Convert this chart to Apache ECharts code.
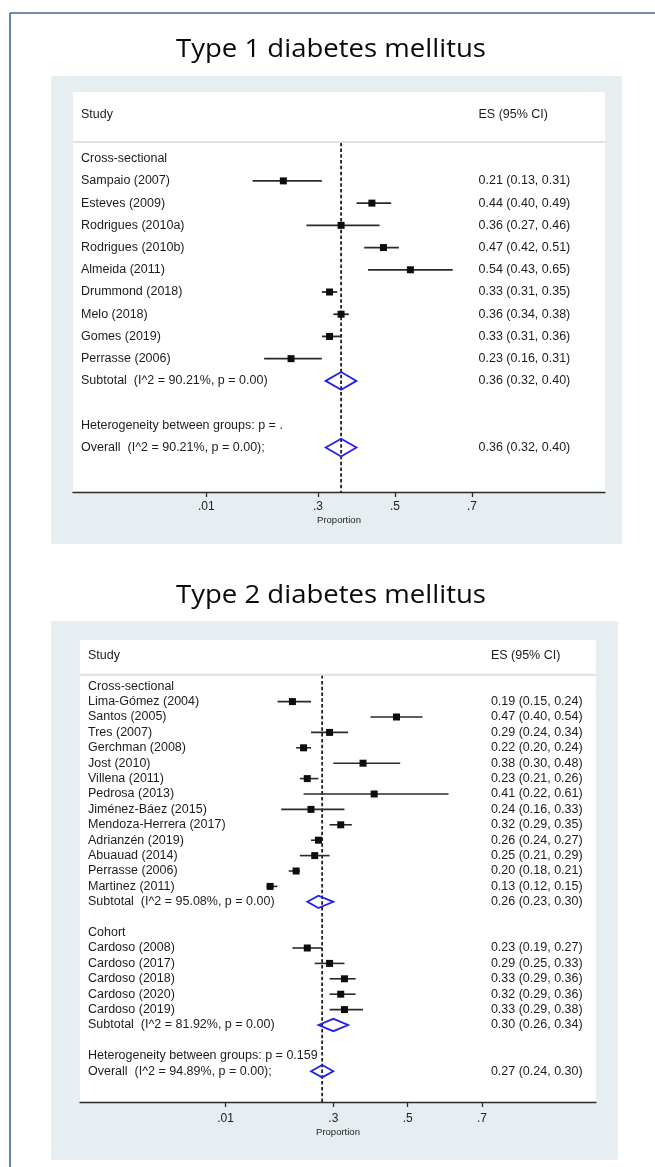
<!DOCTYPE html>
<html>
<head>
<meta charset="utf-8">
<script src="https://cdn.jsdelivr.net/npm/echarts@6/dist/echarts.min.js"></script>
<style>
  html, body { margin: 0; padding: 0; background: #ffffff; }
  #chart { width: 655px; height: 1167px; }
</style>
</head>
<body>
<div id="chart"></div>
<script>
// ---------- Type 1 diabetes mellitus ----------
const T1_TITLE = 'Type 1 diabetes mellitus';
const T1_CS_STUDIES = ['Sampaio (2007)', 'Esteves (2009)', 'Rodrigues (2010a)', 'Rodrigues (2010b)',
  'Almeida (2011)', 'Drummond (2018)', 'Melo (2018)', 'Gomes (2019)', 'Perrasse (2006)'];
const T1_CS_ES = [0.21, 0.44, 0.36, 0.47, 0.54, 0.33, 0.36, 0.33, 0.23];
const T1_CS_LO = [0.13, 0.40, 0.27, 0.42, 0.43, 0.31, 0.34, 0.31, 0.16];
const T1_CS_HI = [0.31, 0.49, 0.46, 0.51, 0.65, 0.35, 0.38, 0.36, 0.31];
const T1_CS_SUBTOTAL = [0.36, 0.32, 0.40];
const T1_CS_I2 = 90.21;
const T1_CS_P = 0.00;
const T1_HET_P = '.';
const T1_OVERALL = [0.36, 0.32, 0.40];
const T1_OVERALL_I2 = 90.21;
const T1_OVERALL_P = 0.00;

// ---------- Type 2 diabetes mellitus ----------
const T2_TITLE = 'Type 2 diabetes mellitus';
const T2_CS_STUDIES = ['Lima-Gómez (2004)', 'Santos (2005)', 'Tres (2007)', 'Gerchman (2008)', 'Jost (2010)',
  'Villena (2011)', 'Pedrosa (2013)', 'Jiménez-Báez (2015)', 'Mendoza-Herrera (2017)', 'Adrianzén (2019)',
  'Abuauad (2014)', 'Perrasse (2006)', 'Martinez (2011)'];
const T2_CS_ES = [0.19, 0.47, 0.29, 0.22, 0.38, 0.23, 0.41, 0.24, 0.32, 0.26, 0.25, 0.20, 0.13];
const T2_CS_LO = [0.15, 0.40, 0.24, 0.20, 0.30, 0.21, 0.22, 0.16, 0.29, 0.24, 0.21, 0.18, 0.12];
const T2_CS_HI = [0.24, 0.54, 0.34, 0.24, 0.48, 0.26, 0.61, 0.33, 0.35, 0.27, 0.29, 0.21, 0.15];
const T2_CS_SUBTOTAL = [0.26, 0.23, 0.30];
const T2_CS_I2 = 95.08;
const T2_CS_P = 0.00;
const T2_CO_STUDIES = ['Cardoso (2008)', 'Cardoso (2017)', 'Cardoso (2018)', 'Cardoso (2020)', 'Cardoso (2019)'];
const T2_CO_ES = [0.23, 0.29, 0.33, 0.32, 0.33];
const T2_CO_LO = [0.19, 0.25, 0.29, 0.29, 0.29];
const T2_CO_HI = [0.27, 0.33, 0.36, 0.36, 0.38];
const T2_CO_SUBTOTAL = [0.30, 0.26, 0.34];
const T2_CO_I2 = 81.92;
const T2_CO_P = 0.00;
const T2_HET_P = '0.159';
const T2_OVERALL = [0.27, 0.24, 0.30];
const T2_OVERALL_I2 = 94.89;
const T2_OVERALL_P = 0.00;

// ---------- shared axis ----------
const TICK_VALUES = [0.01, 0.3, 0.5, 0.7];
const TICK_LABELS = ['.01', '.3', '.5', '.7'];
const AXIS_NAME = 'Proportion';
const HEADER_STUDY = 'Study';
const HEADER_ES = 'ES (95% CI)';

const FONT = '"Liberation Sans", Arial, Helvetica, sans-serif';
const TEXT_COLOR = '#1c1c1c';
const DIAMOND_COLOR = '#2222e6';

function fmt(v) { return v.toFixed(2); }
function ciText(e, l, h) { return fmt(e) + ' (' + fmt(l) + ', ' + fmt(h) + ')'; }

// Turns the sections of a meta-analysis into table rows (one row index per line of the plot).
function buildRows(sections, hetP, overall, overallI2, overallP) {
  const rows = [{ row: -2, kind: 'header' }];
  let r = 0;
  sections.forEach(function (s) {
    rows.push({ row: r++, kind: 'text', label: s.name });
    s.studies.forEach(function (name, i) {
      rows.push({ row: r++, kind: 'study', label: name, es: s.es[i], lo: s.lo[i], hi: s.hi[i] });
    });
    rows.push({
      row: r++, kind: 'pooled',
      label: 'Subtotal  (I^2 = ' + s.i2.toFixed(2) + '%, p = ' + s.p.toFixed(2) + ')',
      es: s.sub[0], lo: s.sub[1], hi: s.sub[2]
    });
    r++; // empty line after each subgroup
  });
  rows.push({ row: r++, kind: 'text', label: 'Heterogeneity between groups: p = ' + hetP });
  rows.push({
    row: r++, kind: 'pooled',
    label: 'Overall  (I^2 = ' + overallI2.toFixed(2) + '%, p = ' + overallP.toFixed(2) + ');',
    es: overall[0], lo: overall[1], hi: overall[2]
  });
  return { rows: rows, lastRow: r - 1 };
}

const plots = [
  {
    title: T1_TITLE,
    data: buildRows([
      { name: 'Cross-sectional', studies: T1_CS_STUDIES, es: T1_CS_ES, lo: T1_CS_LO, hi: T1_CS_HI,
        sub: T1_CS_SUBTOTAL, i2: T1_CS_I2, p: T1_CS_P }
    ], T1_HET_P, T1_OVERALL, T1_OVERALL_I2, T1_OVERALL_P),
    overallEs: T1_OVERALL[0],
    layout: {
      titleY: 50, panel: [51, 76, 571, 468],
      grid: { left: 73, top: 92, width: 532, height: 400 },
      xMin: -0.3364, xMax: 1.0455, esColumn: 0.717, labelPad: 8,
      square: 7, ciWidth: 1.8, labelMargin: 9, nameGap: 23
    }
  },
  {
    title: T2_TITLE,
    data: buildRows([
      { name: 'Cross-sectional', studies: T2_CS_STUDIES, es: T2_CS_ES, lo: T2_CS_LO, hi: T2_CS_HI,
        sub: T2_CS_SUBTOTAL, i2: T2_CS_I2, p: T2_CS_P },
      { name: 'Cohort', studies: T2_CO_STUDIES, es: T2_CO_ES, lo: T2_CO_LO, hi: T2_CO_HI,
        sub: T2_CO_SUBTOTAL, i2: T2_CO_I2, p: T2_CO_P }
    ], T2_HET_P, T2_OVERALL, T2_OVERALL_I2, T2_OVERALL_P),
    overallEs: T2_OVERALL[0],
    layout: {
      titleY: 596, panel: [51, 621, 567, 539],
      grid: { left: 80, top: 640, width: 516, height: 462 },
      xMin: -0.3815, xMax: 1.0068, esColumn: 0.724, labelPad: 8,
      square: 7, ciWidth: 1.6, labelMargin: 11, nameGap: 25
    }
  }
];

function makeRenderer(rows, layout) {
  return function (params, api) {
    const item = rows[params.dataIndex];
    const cs = params.coordSys;
    const y = api.coord([0, item.row])[1];
    const rowPx = api.size([0, 1])[1];
    const children = [];
    function text(str, x) {
      return {
        type: 'text',
        style: { text: str, x: x, y: y, fill: TEXT_COLOR, fontSize: 12.5, fontFamily: FONT,
                 align: 'left', verticalAlign: 'middle' }
      };
    }
    const esX = api.coord([layout.esColumn, item.row])[0];
    if (item.kind === 'header') {
      children.push(text(HEADER_STUDY, cs.x + layout.labelPad));
      children.push(text(HEADER_ES, esX));
      const sepY = api.coord([0, -0.75])[1];
      children.push({
        type: 'line',
        shape: { x1: cs.x, y1: sepY, x2: cs.x + cs.width, y2: sepY },
        style: { stroke: '#dce2e5', lineWidth: 2 }
      });
      return { type: 'group', children: children };
    }
    children.push(text(item.label, cs.x + layout.labelPad));
    if (item.kind === 'study') {
      const pLo = api.coord([item.lo, item.row]);
      const pHi = api.coord([item.hi, item.row]);
      const pEs = api.coord([item.es, item.row]);
      children.push({
        type: 'line',
        shape: { x1: pLo[0], y1: y, x2: pHi[0], y2: y },
        style: { stroke: '#2a2a2a', lineWidth: layout.ciWidth }
      });
      const s = layout.square;
      children.push({
        type: 'rect',
        shape: { x: pEs[0] - s / 2, y: y - s / 2, width: s, height: s },
        style: { fill: '#0d0d0d' }
      });
      children.push(text(ciText(item.es, item.lo, item.hi), esX));
    } else if (item.kind === 'pooled') {
      const xl = api.coord([item.lo, item.row])[0];
      const xh = api.coord([item.hi, item.row])[0];
      const xe = api.coord([item.es, item.row])[0];
      const h = rowPx * 0.4;
      children.push({
        type: 'polygon',
        shape: { points: [[xl, y], [xe, y - h], [xh, y], [xe, y + h]] },
        style: { fill: 'none', stroke: DIAMOND_COLOR, lineWidth: 1.8 }
      });
      children.push(text(ciText(item.es, item.lo, item.hi), esX));
    }
    return { type: 'group', children: children };
  };
}

const grids = [], xAxes = [], yAxes = [], series = [];
const graphics = [];

// outer frame (left and top rules)
graphics.push({ type: 'line', z: -5, silent: true,
  shape: { x1: 10, y1: 13, x2: 10, y2: 1167 }, style: { stroke: '#3d6793', lineWidth: 1.6 } });
graphics.push({ type: 'line', z: -5, silent: true,
  shape: { x1: 10, y1: 13, x2: 655, y2: 13 }, style: { stroke: '#3d6793', lineWidth: 1.6 } });

plots.forEach(function (p, i) {
  const L = p.layout;
  graphics.push({ type: 'rect', z: -10, silent: true,
    shape: { x: L.panel[0], y: L.panel[1], width: L.panel[2], height: L.panel[3] },
    style: { fill: '#e7eef1' } });
  graphics.push({ type: 'rect', z: -9, silent: true,
    shape: { x: L.grid.left, y: L.grid.top, width: L.grid.width, height: L.grid.height },
    style: { fill: '#ffffff' } });
  graphics.push({ type: 'text', z: 5, x: 331, y: L.titleY, scaleX: 1.08, silent: true,
    style: { text: p.title, x: 0, y: 0, align: 'center', verticalAlign: 'middle',
             fontFamily: '"Open Sans", "Noto Sans", sans-serif', fontSize: 25.5, fontWeight: 500,
             fill: '#0a0a0a' } });

  grids.push({ left: L.grid.left, top: L.grid.top, width: L.grid.width, height: L.grid.height,
               containLabel: false, outerBoundsMode: 'none', show: false });
  xAxes.push({
    type: 'value', gridIndex: i, min: L.xMin, max: L.xMax, position: 'bottom',
    axisLine: { show: true, onZero: false, lineStyle: { color: '#2a2a2a', width: 1.3 } },
    axisTick: { show: true, customValues: TICK_VALUES, length: 5, lineStyle: { color: '#2a2a2a', width: 1.3 } },
    axisLabel: {
      show: true, customValues: TICK_VALUES, margin: L.labelMargin,
      color: '#222222', fontSize: 12, fontFamily: FONT,
      formatter: function (v) {
        const k = TICK_VALUES.findIndex(function (t) { return Math.abs(t - v) < 1e-9; });
        return k >= 0 ? TICK_LABELS[k] : '';
      }
    },
    splitLine: { show: false },
    name: AXIS_NAME, nameLocation: 'middle', nameGap: L.nameGap,
    nameTextStyle: { color: '#222222', fontSize: 9.5, fontFamily: FONT }
  });
  yAxes.push({ type: 'value', gridIndex: i, min: -3, max: p.data.lastRow + 2, inverse: true, show: false });

  // vertical dashed reference line at the overall estimate
  series.push({
    type: 'line', xAxisIndex: i, yAxisIndex: i, z: 1, silent: true, symbol: 'none',
    data: [[p.overallEs, -0.72], [p.overallEs, p.data.lastRow + 2]],
    lineStyle: { color: '#1f1f1f', width: 1.8, type: [3.5, 2.3] }
  });

  const rows = p.data.rows;
  series.push({
    type: 'custom', xAxisIndex: i, yAxisIndex: i, z: 3, silent: true,
    renderItem: makeRenderer(rows, L),
    encode: { x: [0, 2, 3], y: 1 },
    data: rows.map(function (r) {
      return [r.es != null ? r.es : 0, r.row, r.lo != null ? r.lo : 0, r.hi != null ? r.hi : 0];
    })
  });
});

const chart = echarts.init(document.getElementById('chart'), null, { renderer: 'canvas' });
chart.setOption({
  animation: false,
  backgroundColor: '#ffffff',
  grid: grids,
  xAxis: xAxes,
  yAxis: yAxes,
  graphic: { elements: graphics },
  series: series
});
</script>
</body>
</html>
